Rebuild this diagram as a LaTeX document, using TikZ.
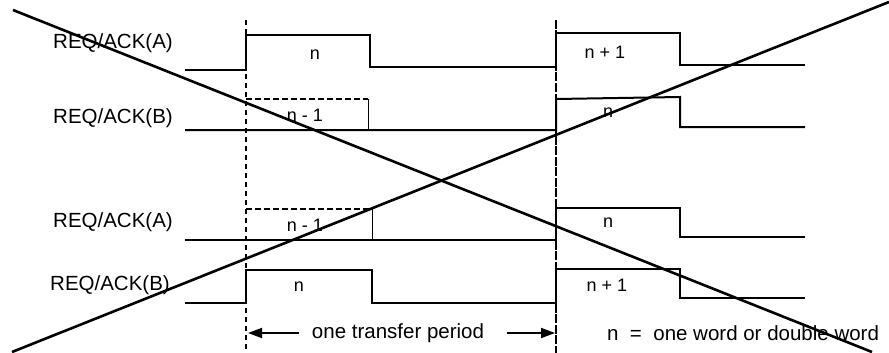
\documentclass[tikz,border=0pt]{standalone}
\usepackage{fontspec}
\setmainfont{Liberation Sans}
\usetikzlibrary{arrows.meta}

\tikzset{
    signal/.style={line width=2pt, line join=miter},
    ghost/.style={line width=2pt, dash pattern=on 6pt off 3pt},
    period/.style={line width=1.6pt, dash pattern=on 5pt off 4pt},
    siglabel/.style={anchor=west, font=\fontsize{20.5}{24}\selectfont, inner sep=0pt},
    pulselabel/.style={font=\fontsize{18}{21}\selectfont, inner sep=0pt},
    cross/.style={line width=2.6pt},
    arr/.style={line width=1.8pt, -{Triangle[length=14pt,width=10pt]}}
}

\begin{document}
\begin{tikzpicture}[x=1pt, y=-1pt]
    \useasboundingbox (0,0) rectangle (889,353);

    % Period boundaries
    \draw[period] (246,20) -- (246,353);
    \draw[line width=1.4pt, dash pattern=on 9pt off 1.5pt] (556,20) -- (556,353);

    % TOP: A leads B
    \node[siglabel] (lblA1) at (53,43) {REQ/ACK(A)};
    \draw[signal] (185,70) -- (246,70) -- (246,35) -- (370,35) -- (370,67)
        -- (556,67) -- (556,33) -- (680,33) -- (680,65) -- (805,65);
    \node[pulselabel] (pA1n) at (315,55) {n};
    \node[pulselabel] (pA1m) at (605,52) {n + 1};

    \node[siglabel] (lblB1) at (53,118) {REQ/ACK(B)};
    \draw[signal] (185,130) -- (556,130) -- (556,99) -- (680,97) -- (680,127) -- (805,127);
    % previous word, dashed
    \draw[ghost] (246,99) -- (368,99);
    \draw[line width=1pt] (368,99) -- (368,130);
    \node[pulselabel] (pB1p) at (305,115) {n - 1};
    \node[pulselabel] (pB1n) at (608,113) {n};

    % BOTTOM: B leads A
    \node[siglabel] (lblA2) at (53,222) {REQ/ACK(A)};
    \draw[signal] (185,240) -- (556,240) -- (556,208) -- (680,208) -- (680,237) -- (805,237);
    % previous word, dashed
    \draw[ghost] (246,209) -- (372,209);
    \draw[line width=1pt] (372,209) -- (372,240);
    \node[pulselabel] (pA2p) at (305,225) {n - 1};
    \node[pulselabel] (pA2n) at (608,223) {n};

    \node[siglabel] (lblB2) at (50,285) {REQ/ACK(B)};
    \draw[signal] (185,303) -- (246,303) -- (246,270) -- (372,270) -- (372,303)
        -- (556,303) -- (556,269) -- (680,269) -- (680,298) -- (805,298);
    \node[pulselabel] (pB2n) at (299,287) {n};
    \node[pulselabel] (pB2m) at (607,285) {n + 1};

    % Transfer period
    \coordinate (tl) at (248,333);
    \coordinate (tr) at (555,333);
    \node[font=\fontsize{20.5}{24}\selectfont, inner ysep=0pt, inner xsep=13pt] (tp) at (398,333) {one transfer period};
    \draw[arr] (tp.west) -- (tl);
    \draw[arr, shorten <=10pt] (tp.east) -- (tr);

    % Legend
    \node[siglabel] (legend) at (607,333) {n\ \ =\ \ one word or double word};

    % Crossed out
    \draw[cross] (13,10) -- (872,352);
    \draw[cross] (12,352) -- (889,2);
\end{tikzpicture}
\end{document}
